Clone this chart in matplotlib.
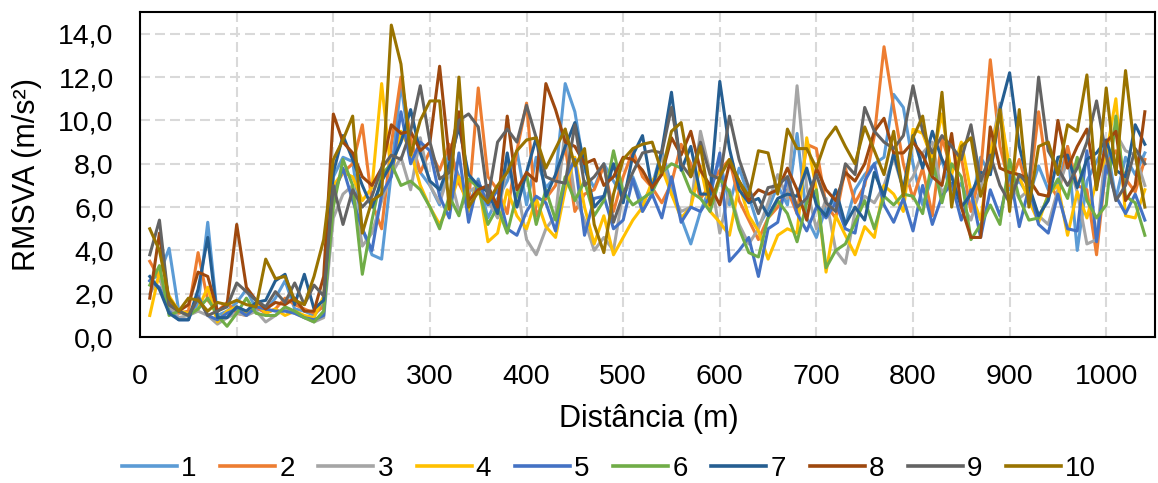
import matplotlib
matplotlib.use("Agg")
import matplotlib.pyplot as plt
from matplotlib.ticker import FuncFormatter

plt.rcParams['font.family'] = ['Liberation Sans', 'DejaVu Sans']

# distance (m), one sample every 10 m
distance = list(range(10, 1050, 10))

s1 = [2.6, 2.9, 4.1, 1.2, 1.0, 1.5, 5.3, 1.0, 1.2, 1.6,
      2.2, 1.3, 1.2, 1.8, 2.6, 1.3, 1.2, 1.0, 1.5, 7.4,
      8.3, 8.1, 5.0, 3.8, 3.6, 7.6, 11.7, 8.4, 7.6, 7.0,
      6.1, 8.7, 7.4, 6.0, 7.3, 5.5, 6.4, 7.2, 8.6, 6.1,
      8.3, 6.9, 7.4, 11.7, 10.4, 7.7, 6.9, 8.0, 7.2, 6.5,
      7.4, 6.2, 7.0, 8.6, 7.0, 5.5, 4.3, 5.8, 6.9, 8.2,
      6.1, 7.8, 6.5, 5.1, 5.9, 7.0, 6.1, 9.4, 5.5, 4.6,
      6.0, 6.3, 5.2, 6.8, 7.5, 8.0, 8.3, 11.2, 10.6, 8.0,
      6.1, 7.4, 8.2, 6.5, 7.1, 6.0, 8.3, 7.5, 10.6, 6.8,
      7.2, 6.5, 7.9, 6.8, 7.0, 8.8, 4.0, 7.2, 8.1, 9.0,
      6.4, 8.3, 7.5, 8.5]
s2 = [3.5, 2.7, 1.6, 1.1, 1.2, 3.9, 1.7, 1.2, 1.6, 1.1,
      1.0, 1.4, 1.1, 1.3, 1.8, 1.5, 1.3, 1.1, 1.4, 6.8,
      7.6, 8.0, 9.8, 6.2, 5.0, 8.9, 12.0, 9.2, 7.6, 8.6,
      7.7, 8.9, 7.1, 6.2, 11.5, 7.4, 6.8, 5.7, 8.6, 10.8,
      5.6, 6.4, 7.0, 8.8, 5.8, 6.6, 6.8, 7.9, 5.8, 7.4,
      8.6, 7.4, 6.9, 6.2, 7.1, 8.9, 8.0, 6.4, 7.0, 7.7,
      8.2, 6.3, 5.4, 4.5, 5.5, 6.0, 6.8, 5.7, 8.9, 8.7,
      6.1, 5.5, 7.8, 6.2, 7.0, 9.3, 13.4, 10.6, 8.0, 6.4,
      7.8, 5.6, 9.2, 7.7, 8.3, 5.8, 7.6, 12.8, 8.8, 7.0,
      8.2, 6.6, 10.4, 7.2, 6.4, 8.8, 7.0, 6.8, 3.8, 8.0,
      8.6, 7.3, 6.7, 8.2]
s3 = [2.0, 2.8, 1.4, 0.9, 1.0, 1.2, 1.0, 0.6, 0.9, 1.1,
      1.0, 1.2, 0.7, 1.0, 1.3, 1.1, 0.9, 0.7, 0.9, 5.5,
      6.6, 7.0, 4.2, 4.8, 6.3, 7.5, 8.3, 6.8, 9.2, 7.0,
      6.2, 7.6, 5.8, 6.7, 7.0, 6.3, 5.5, 8.0, 7.0, 4.5,
      3.8, 5.0, 5.6, 9.6, 6.5, 5.4, 4.0, 4.6, 4.0, 6.7,
      7.2, 5.8, 6.6, 8.4, 6.6, 5.8, 6.0, 9.5, 7.6, 4.8,
      6.8, 5.2, 4.3, 5.0, 6.2, 7.5, 6.4, 11.6, 6.9, 5.0,
      6.4, 4.0, 3.4, 5.8, 6.5, 6.2, 7.0, 8.3, 6.8, 7.4,
      8.5, 9.0, 6.6, 7.5, 6.2, 5.4, 6.9, 8.5, 10.8, 7.2,
      6.4, 6.8, 5.6, 5.2, 6.8, 8.2, 6.7, 4.3, 4.5, 8.9,
      9.4, 8.6, 8.4, 7.0]
s4 = [1.0, 3.0, 1.9, 1.2, 1.1, 1.3, 2.3, 0.7, 1.2, 1.4,
      1.1, 1.6, 1.1, 1.3, 1.0, 1.2, 1.0, 0.9, 1.9, 7.0,
      7.6, 7.4, 6.3, 6.9, 11.7, 7.5, 9.5, 8.6, 7.0, 6.0,
      5.2, 6.1, 7.4, 5.8, 7.2, 4.4, 4.8, 6.8, 5.6, 5.0,
      6.4, 5.1, 4.6, 6.8, 8.3, 6.0, 4.3, 5.6, 3.8, 4.6,
      5.4, 6.0, 7.2, 7.8, 6.6, 5.5, 6.0, 7.9, 5.8, 5.3,
      4.7, 7.0, 5.6, 4.9, 3.6, 4.7, 5.0, 4.8, 9.2, 6.8,
      3.0, 5.6, 4.7, 3.8, 5.1, 4.6, 7.0, 6.6, 5.8, 9.6,
      9.4, 8.2, 10.3, 7.5, 9.0, 6.7, 5.4, 8.5, 10.5, 7.8,
      7.4, 6.3, 5.3, 6.6, 7.0, 4.7, 6.7, 5.5, 7.2, 8.4,
      11.0, 5.6, 5.5, 6.8]
s5 = [2.6, 2.3, 1.2, 0.8, 0.8, 1.9, 1.0, 0.8, 1.1, 1.3,
      1.0, 1.4, 1.3, 1.2, 1.2, 1.1, 0.9, 0.8, 1.0, 6.5,
      7.8, 6.3, 5.0, 4.0, 6.6, 7.4, 10.4, 8.0, 9.0, 8.6,
      6.5, 5.5, 8.5, 5.3, 7.2, 6.1, 6.8, 5.0, 4.7, 5.8,
      6.5, 6.2, 4.9, 7.3, 8.2, 4.7, 6.4, 6.5, 5.0, 5.4,
      7.3, 5.8, 6.6, 5.5, 7.4, 5.3, 6.0, 5.8, 6.5, 8.5,
      3.5, 4.0, 4.6, 2.8, 5.0, 5.3, 7.4, 5.7, 4.9, 6.0,
      5.5, 6.2, 5.0, 4.8, 7.2, 8.0, 6.1, 5.3, 6.4, 4.9,
      7.0, 5.2, 6.5, 7.1, 5.4, 6.8, 4.6, 6.8, 5.6, 7.6,
      5.1, 6.9, 5.2, 4.8, 6.6, 5.0, 4.9, 8.6, 4.4, 7.9,
      6.5, 5.7, 6.6, 5.4]
s6 = [2.4, 3.3, 1.0, 1.2, 1.0, 1.3, 1.8, 1.0, 0.5, 1.1,
      1.8, 1.1, 1.0, 1.0, 1.4, 1.2, 0.9, 0.7, 1.2, 6.0,
      8.2, 7.0, 2.9, 5.4, 7.5, 8.0, 7.0, 7.2, 6.8, 6.0,
      5.0, 6.5, 5.6, 7.3, 6.9, 5.2, 6.0, 4.8, 6.6, 7.5,
      5.2, 6.8, 5.4, 7.4, 6.3, 7.2, 5.6, 6.3, 8.6, 6.7,
      6.1, 6.4, 6.7, 7.6, 8.0, 7.8, 6.7, 6.4, 5.8, 7.3,
      6.7, 5.0, 3.9, 3.7, 5.5, 6.3, 5.7, 4.4, 6.2, 6.8,
      3.2, 4.0, 4.3, 5.3, 6.3, 5.0, 6.5, 6.1, 6.6, 6.5,
      5.7, 8.2, 6.2, 8.0, 7.4, 4.5, 5.2, 6.1, 5.2, 8.2,
      6.4, 5.4, 5.5, 6.5, 7.3, 6.4, 8.3, 6.3, 5.5, 6.1,
      10.2, 6.5, 6.2, 4.7]
s7 = [2.8, 2.2, 1.1, 0.8, 0.8, 2.2, 4.6, 0.9, 0.9, 1.4,
      1.2, 1.6, 1.7, 2.6, 2.9, 1.5, 2.9, 1.3, 1.7, 7.6,
      9.3, 8.2, 7.0, 6.0, 7.2, 8.0, 9.0, 10.5, 8.5, 7.2,
      6.8, 8.0, 9.7, 7.5, 7.0, 6.7, 5.7, 8.5, 6.0, 7.6,
      9.2, 6.5, 7.5, 8.8, 9.9, 8.0, 6.0, 6.5, 8.0, 6.2,
      8.4, 9.3, 6.8, 8.6, 11.3, 7.7, 8.8, 6.6, 6.6, 11.8,
      8.7, 6.8, 6.2, 6.4, 5.6, 6.4, 6.6, 6.5, 7.8, 6.1,
      5.6, 6.8, 5.2, 6.0, 5.4, 7.6, 6.5, 8.5, 6.8, 9.3,
      7.8, 9.5, 8.2, 7.4, 6.0, 6.6, 7.6, 7.5, 10.5, 12.2,
      8.8, 7.0, 5.6, 6.3, 8.3, 8.4, 6.9, 8.2, 8.5, 9.1,
      7.7, 7.4, 9.8, 8.9]
s8 = [1.8, 4.8, 1.5, 1.2, 1.5, 3.0, 2.8, 1.2, 1.5, 5.2,
      2.3, 1.7, 1.3, 1.6, 1.5, 1.8, 1.2, 1.2, 2.8, 10.3,
      9.0, 8.5, 7.4, 7.0, 7.8, 9.8, 9.4, 9.5, 8.6, 9.0,
      12.5, 8.2, 10.4, 6.3, 6.8, 7.0, 6.0, 10.2, 6.8, 7.6,
      7.2, 11.7, 10.5, 9.0, 8.8, 8.0, 8.2, 7.0, 7.4, 8.3,
      8.2, 7.7, 6.9, 7.5, 9.2, 8.4, 9.5, 7.7, 7.0, 6.1,
      8.0, 7.2, 6.3, 6.8, 6.6, 6.8, 7.8, 6.8, 5.4, 7.8,
      6.8, 6.3, 7.6, 7.2, 8.0, 9.5, 10.1, 8.5, 8.5, 9.0,
      8.4, 7.4, 7.0, 9.4, 6.0, 4.6, 4.6, 9.7, 7.8, 7.6,
      7.5, 7.3, 6.6, 6.5, 10.0, 7.8, 8.8, 9.6, 6.9, 9.0,
      9.5, 6.3, 7.0, 10.4]
s9 = [3.8, 5.4, 1.5, 1.2, 1.0, 1.8, 1.0, 1.2, 1.4, 2.5,
      2.1, 1.7, 1.4, 2.1, 1.6, 2.5, 1.5, 2.4, 1.9, 7.0,
      5.2, 6.8, 6.0, 6.5, 7.8, 8.4, 8.2, 9.5, 11.6, 9.0,
      7.3, 7.6, 10.0, 10.3, 9.7, 6.4, 9.0, 9.6, 9.0, 10.7,
      9.2, 7.4, 7.2, 7.1, 9.8, 7.0, 7.4, 8.0, 5.3, 6.6,
      7.6, 8.5, 8.6, 8.5, 10.6, 8.0, 7.4, 9.0, 7.5, 7.3,
      10.2, 8.2, 6.9, 5.7, 6.9, 7.0, 7.4, 6.0, 6.4, 7.5,
      6.2, 5.8, 8.0, 7.5, 10.6, 9.5, 9.0, 8.7, 9.3, 11.6,
      9.5, 8.5, 9.3, 8.8, 8.2, 9.8, 7.2, 8.4, 7.0, 6.2,
      7.5, 7.0, 12.0, 8.6, 7.8, 7.0, 7.8, 9.0, 10.9, 8.4,
      6.3, 7.0, 8.7, 8.0]
s10 = [5.0, 4.0, 1.8, 1.2, 1.8, 1.7, 1.2, 1.6, 1.5, 1.7,
       1.5, 1.4, 3.6, 2.7, 2.8, 1.7, 1.5, 2.8, 4.5, 8.2,
       9.1, 10.2, 4.8, 6.3, 6.6, 14.4, 12.6, 8.4, 10.0, 10.9,
       10.9, 5.9, 12.0, 6.0, 6.7, 6.2, 7.0, 7.6, 8.6, 9.1,
       9.2, 7.8, 8.7, 9.6, 7.9, 8.7, 5.2, 3.9, 6.6, 8.2,
       8.7, 8.9, 9.0, 7.6, 9.5, 9.9, 7.4, 8.8, 6.1, 7.4,
       8.2, 7.2, 6.5, 8.6, 8.5, 6.6, 9.6, 8.7, 8.7, 7.8,
       9.1, 9.7, 8.8, 8.0, 9.7, 8.6, 7.5, 9.5, 6.5, 9.2,
       10.2, 7.5, 11.3, 6.0, 8.8, 9.2, 6.5, 7.8, 10.5, 5.8,
       10.5, 6.0, 8.8, 9.0, 7.5, 9.8, 9.5, 12.1, 6.8, 11.5,
       7.5, 12.3, 8.4, 6.0]

series = [s1, s2, s3, s4, s5, s6, s7, s8, s9, s10]
labels = ["1", "2", "3", "4", "5", "6", "7", "8", "9", "10"]
colors = ["#5B9BD5", "#ED7D31", "#A5A5A5", "#FFC000", "#4472C4",
          "#70AD47", "#255E91", "#9E480E", "#636363", "#997300"]

fig = plt.figure(figsize=(11.58, 4.83), dpi=100)
ax = fig.add_axes([0.121, 0.302, 0.876, 0.673])

for vals, lab, col in zip(series, labels, colors):
    ax.plot(distance, vals, color=col, linewidth=2.2, label=lab)

ax.set_xlim(0, 1050)
ax.set_ylim(0, 15)
ax.set_xticks(range(0, 1001, 100))
ax.set_yticks(range(0, 15, 2))
ax.yaxis.set_major_formatter(FuncFormatter(lambda v, p: f"{v:.1f}".replace(".", ",")))
ax.tick_params(length=0, labelsize=20.5, pad=19)
ax.grid(True, color="#D9D9D9", linestyle=(0, (4.8, 2.4)), linewidth=1.5)
ax.set_axisbelow(True)
for sp in ax.spines.values():
    sp.set_color("black")
    sp.set_linewidth(1.5)

ax.set_xlabel("Distância (m)", fontsize=22)
ax.xaxis.set_label_coords(0.501, -0.205)
ax.set_ylabel("RMSVA (m/s²)", fontsize=22)
ax.yaxis.set_label_coords(-0.097, 0.5)

leg = fig.legend(loc="center", bbox_to_anchor=(0.526, 0.03), ncol=10, frameon=False,
                 fontsize=20, handlelength=1.98, handletextpad=0.15, columnspacing=0.85)
for ln in leg.get_lines():
    ln.set_linewidth(2.6)

fig.savefig("out.png", dpi=100)
